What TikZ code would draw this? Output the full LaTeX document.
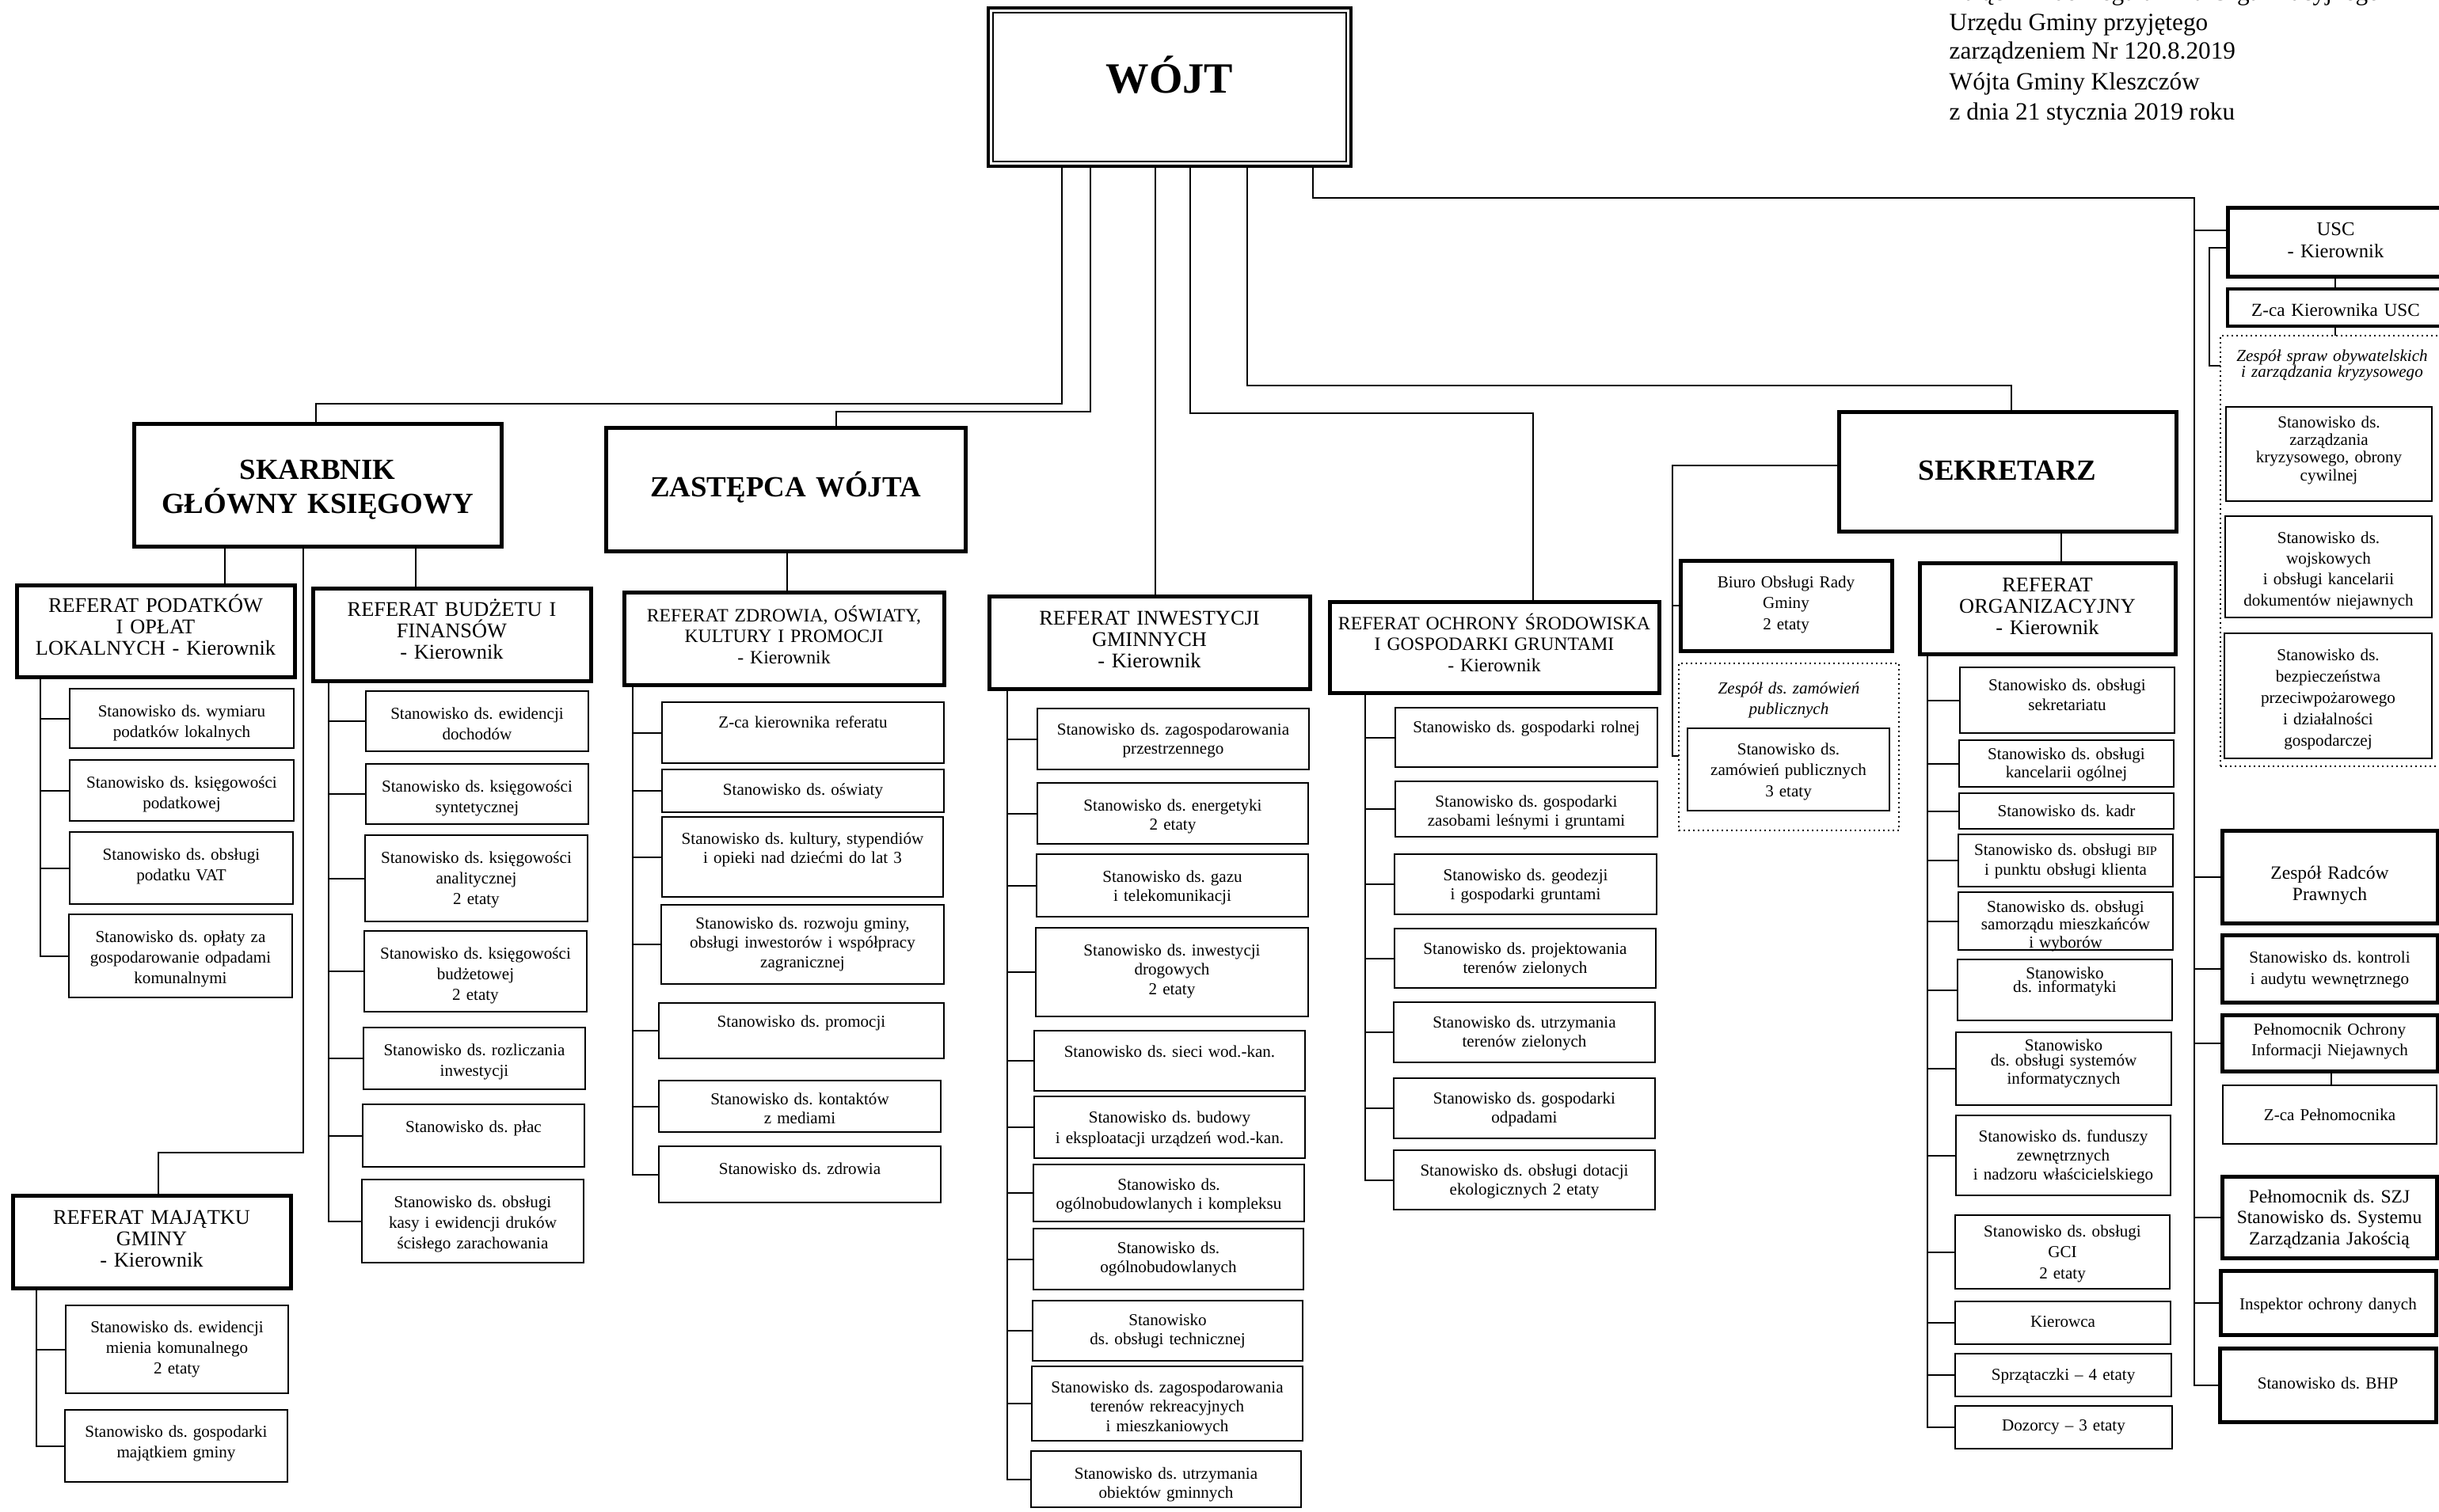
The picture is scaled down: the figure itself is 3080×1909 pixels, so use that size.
\documentclass[tikz,border=0pt]{standalone}
\usepackage{fontspec}
\setmainfont{Liberation Serif}
\frenchspacing
\newcommand\obox[9]{%
  \node[#1, anchor=north west, minimum width={(#6-#4)*0.1mm}, minimum height={(#7-#5)*0.1mm}] (#3) at (#4,#5) {};
  \node[#2, anchor=base, text width={(#6-#4+200)*0.1mm}, yshift={-(#8)*0.1mm}] (#3t) at (#3.north) {#9};
}
\tikzset{
 bthin/.style={draw, rectangle, line width=0.25mm, inner sep=0pt, outer sep=0pt},
 bthick/.style={bthin, line width=0.5mm},
 bmid/.style={bthin, line width=0.33mm},
 bdot/.style={bthin, line width=0.2mm, dash pattern=on 0.2mm off 0.4mm},
 tsub/.style={align=center, inner sep=0pt, font=\fontsize{6}{7}\selectfont},
 tsubl/.style={tsub, font=\fontsize{6}{7.5}\selectfont},
 thead/.style={align=center, inner sep=0pt, font=\fontsize{7.5}{7.7}\selectfont},
 theads/.style={thead, font=\fontsize{6.75}{7.6}\selectfont},
 tbig/.style={align=center, inner sep=0pt, font=\bfseries\fontsize{10.5}{12.3}\selectfont},
 hdr/.style={inner sep=0pt, font=\fontsize{8.9}{10}\selectfont},
 conn/.style={line width=0.2mm},
}
\begin{document}
\begin{tikzpicture}[x=0.1mm, y=-0.1mm]
\fill[white] (0,0) rectangle (3080,1909);
\useasboundingbox (0,0) rectangle (3080,1909);

% header text
\node[hdr, anchor=base west] (h1) at (2461,1) {Załącznik do Regulaminu Organizacyjnego};
\node[hdr, anchor=base west] (h2) at (2461,38) {Urzędu Gminy przyjętego};
\node[hdr, anchor=base west] (h3) at (2461,75) {zarządzeniem Nr 120.8.2019};
\node[hdr, anchor=base west] (h4) at (2461,113) {Wójta Gminy Kleszczów};
\node[hdr, anchor=base west] (h5) at (2461,151) {z dnia 21 stycznia 2019 roku};

% WOJT
\obox{bthin, line width=0.35mm}{tbig, font=\bfseries\fontsize{15.5}{18}\selectfont}{wojt}{1248}{10}{1706}{210}{107}{WÓJT}
\draw[line width=0.2mm] ([xshift=0.6mm,yshift=-0.6mm]wojt.north west) rectangle ([xshift=-0.6mm,yshift=0.6mm]wojt.south east);

% SKARBNIK column
\obox{bthick}{tbig}{sk}{169}{535}{633}{690}{70}{SKARBNIK\\GŁÓWNY KSIĘGOWY}
\obox{bthick}{thead}{pod}{21}{739}{372}{855}{34}{REFERAT PODATKÓW\\I OPŁAT\\LOKALNYCH - Kierownik}
\obox{bthin}{tsubl}{pod1}{88}{870}{371}{945}{35}{Stanowisko ds. wymiaru\\podatków lokalnych}
\obox{bthin}{tsubl}{pod2}{88}{960}{371}{1037}{35}{Stanowisko ds. księgowości\\podatkowej}
\obox{bthin}{tsubl}{pod3}{88}{1051}{370}{1142}{35}{Stanowisko ds. obsługi\\podatku VAT}
\obox{bthin}{tsubl}{pod4}{87}{1155}{369}{1260}{35}{Stanowisko ds. opłaty za\\gospodarowanie odpadami\\komunalnymi}

\obox{bthick}{thead}{bud}{395}{743}{746}{860}{35}{REFERAT BUDŻETU I\\FINANSÓW\\- Kierownik}
\obox{bthin}{tsubl}{bud1}{462}{873}{743}{949}{35}{Stanowisko ds. ewidencji\\dochodów}
\obox{bthin}{tsubl}{bud2}{462}{965}{743}{1041}{35}{Stanowisko ds. księgowości\\syntetycznej}
\obox{bthin}{tsubl}{bud3}{461}{1055}{742}{1164}{35}{Stanowisko ds. księgowości\\analitycznej\\2 etaty}
\obox{bthin}{tsubl}{bud4}{460}{1176}{741}{1278}{35}{Stanowisko ds. księgowości\\budżetowej\\2 etaty}
\obox{bthin}{tsubl}{bud5}{459}{1298}{739}{1376}{35}{Stanowisko ds. rozliczania\\inwestycji}
\obox{bthin}{tsubl}{bud6}{458}{1395}{738}{1474}{35}{Stanowisko ds. płac}
\obox{bthin}{tsubl}{bud7}{457}{1490}{737}{1595}{35}{Stanowisko ds. obsługi\\kasy i ewidencji druków\\ścisłego zarachowania}

\obox{bthick}{thead}{maj}{16}{1510}{367}{1627}{36}{REFERAT MAJĄTKU\\GMINY\\- Kierownik}
\obox{bthin}{tsubl}{maj1}{83}{1649}{364}{1760}{34}{Stanowisko ds. ewidencji\\mienia komunalnego\\2 etaty}
\obox{bthin}{tsubl}{maj2}{82}{1781}{363}{1872}{34}{Stanowisko ds. gospodarki\\majątkiem gminy}

% ZASTEPCA column
\obox{bthick}{tbig}{zas}{765}{540}{1219}{696}{87}{ZASTĘPCA WÓJTA}
\obox{bthick}{theads}{zdr}{788}{748}{1192}{865}{37}{REFERAT ZDROWIA, OŚWIATY,\\KULTURY I PROMOCJI\\- Kierownik}
\obox{bthin}{tsub}{zdr1}{836}{887}{1192}{964}{32}{Z-ca kierownika referatu}
\obox{bthin}{tsub}{zdr2}{836}{972}{1192}{1026}{32}{Stanowisko ds. oświaty}
\obox{bthin}{tsub}{zdr3}{836}{1032}{1191}{1133}{34}{Stanowisko ds. kultury, stypendiów\\i opieki nad dziećmi do lat 3}
\obox{bthin}{tsub}{zdr4}{835}{1143}{1192}{1243}{30}{Stanowisko ds. rozwoju gminy,\\obsługi inwestorów i współpracy\\zagranicznej}
\obox{bthin}{tsub}{zdr5}{832}{1267}{1192}{1337}{30}{Stanowisko ds. promocji}
\obox{bthin}{tsub}{zdr6}{832}{1365}{1188}{1430}{30}{Stanowisko ds. kontaktów\\z mediami}
\obox{bthin}{tsub}{zdr7}{832}{1448}{1188}{1519}{35}{Stanowisko ds. zdrowia}

% INWESTYCJI column
\obox{bthick}{thead}{inw}{1249}{753}{1654}{870}{36}{REFERAT INWESTYCJI\\GMINNYCH\\- Kierownik}
\obox{bthin}{tsub}{inw1}{1310}{895}{1653}{972}{33}{Stanowisko ds. zagospodarowania\\przestrzennego}
\obox{bthin}{tsub}{inw2}{1310}{989}{1652}{1066}{35}{Stanowisko ds. energetyki\\2 etaty}
\obox{bthin}{tsub}{inw3}{1309}{1079}{1652}{1158}{35}{Stanowisko ds. gazu\\i telekomunikacji}
\obox{bthin}{tsub}{inw4}{1308}{1172}{1652}{1284}{35}{Stanowisko ds. inwestycji\\drogowych\\2 etaty}
\obox{bthin}{tsub}{inw5}{1306}{1302}{1648}{1378}{33}{Stanowisko ds. sieci wod.-kan.}
\obox{bthin}{tsub, font=\fontsize{6}{7.4}\selectfont}{inw6}{1306}{1385}{1648}{1463}{33}{Stanowisko ds. budowy\\i eksploatacji urządzeń wod.-kan.}
\obox{bthin}{tsub}{inw7}{1305}{1471}{1647}{1543}{32}{Stanowisko ds.\\ogólnobudowlanych i kompleksu}
\obox{bthin}{tsub}{inw8}{1305}{1552}{1646}{1629}{31}{Stanowisko ds.\\ogólnobudowlanych}
\obox{bthin}{tsub}{inw9}{1304}{1643}{1645}{1719}{31}{Stanowisko\\ds. obsługi technicznej}
\obox{bthin}{tsub}{inw10}{1303}{1726}{1645}{1820}{33}{Stanowisko ds. zagospodarowania\\terenów rekreacyjnych\\i mieszkaniowych}
\obox{bthin}{tsub}{inw11}{1302}{1833}{1643}{1904}{35}{Stanowisko ds. utrzymania\\obiektów gminnych}

% OCHRONY column
\obox{bthick}{theads}{och}{1679}{760}{2095}{875}{35}{REFERAT OCHRONY ŚRODOWISKA\\I GOSPODARKI GRUNTAMI\\- Kierownik}
\obox{bthin}{tsub}{och1}{1762}{894}{2093}{969}{31}{Stanowisko ds. gospodarki rolnej}
\obox{bthin}{tsub}{och2}{1762}{987}{2093}{1057}{32}{Stanowisko ds. gospodarki\\zasobami leśnymi i gruntami}
\obox{bthin}{tsub}{och3}{1761}{1079}{2092}{1155}{33}{Stanowisko ds. geodezji\\i gospodarki gruntami}
\obox{bthin}{tsub}{och4}{1761}{1173}{2091}{1248}{32}{Stanowisko ds. projektowania\\terenów zielonych}
\obox{bthin}{tsub}{och5}{1760}{1266}{2090}{1342}{32}{Stanowisko ds. utrzymania\\terenów zielonych}
\obox{bthin}{tsub}{och6}{1760}{1362}{2090}{1438}{32}{Stanowisko ds. gospodarki\\odpadami}
\obox{bthin}{tsub}{och7}{1760}{1453}{2090}{1528}{32}{Stanowisko ds. obsługi dotacji\\ekologicznych 2 etaty}

% SEKRETARZ
\obox{bthick}{tbig}{sek}{2322}{520}{2748}{671}{86}{SEKRETARZ}
\obox{bthick}{tsub, font=\fontsize{6}{7.6}\selectfont}{biu}{2122}{708}{2389}{822}{34}{Biuro Obsługi Rady\\Gminy\\2 etaty}
\obox{bdot}{tsub, font=\itshape\fontsize{6}{7.4}\selectfont}{zam}{2120}{838}{2398}{1049}{38}{Zespół ds. zamówień\\publicznych}
\obox{bthin}{tsub, font=\fontsize{6}{7.6}\selectfont}{zam1}{2131}{920}{2386}{1024}{33}{Stanowisko ds.\\zamówień publicznych\\3 etaty}

\obox{bthick}{thead}{org}{2424}{711}{2747}{826}{36}{REFERAT\\ORGANIZACYJNY\\- Kierownik}
\obox{bthin}{tsub, font=\fontsize{6}{7.3}\selectfont}{org1}{2475}{843}{2746}{926}{29}{Stanowisko ds. obsługi\\sekretariatu}
\obox{bthin}{tsub, font=\fontsize{6}{6.8}\selectfont}{org2}{2474}{935}{2745}{994}{24}{Stanowisko ds. obsługi\\kancelarii ogólnej}
\obox{bthin}{tsub}{org3}{2474}{1002}{2745}{1047}{29}{Stanowisko ds. kadr}
\obox{bthin}{tsub, font=\fontsize{6}{7.2}\selectfont}{org4}{2473}{1054}{2744}{1120}{26}{Stanowisko ds. obsługi {\fontsize{4.6}{5}\selectfont BIP}\\i punktu obsługi klienta}
\obox{bthin}{tsub, font=\fontsize{6}{5.3}\selectfont}{org5}{2473}{1127}{2744}{1200}{25}{Stanowisko ds. obsługi\\samorządu mieszkańców\\i wyborów}
\obox{bthin}{tsub, font=\fontsize{6}{5.1}\selectfont}{org6}{2472}{1212}{2743}{1289}{24}{Stanowisko\\ds. informatyki}
\obox{bthin}{tsub, font=\fontsize{6}{5.5}\selectfont}{org7}{2470}{1304}{2742}{1396}{23}{Stanowisko\\ds. obsługi systemów\\informatycznych}
\obox{bthin}{tsub, font=\fontsize{6}{6.9}\selectfont}{org8}{2470}{1409}{2741}{1510}{33}{Stanowisko ds. funduszy\\zewnętrznych\\i nadzoru właścicielskiego}
\obox{bthin}{tsub, font=\fontsize{6}{7.6}\selectfont}{org9}{2469}{1535}{2740}{1628}{27}{Stanowisko ds. obsługi\\GCI\\2 etaty}
\obox{bthin}{tsub}{org10}{2469}{1644}{2741}{1698}{32}{Kierowca}
\obox{bthin}{tsub}{org11}{2469}{1710}{2742}{1764}{33}{Sprzątaczki – 4 etaty}
\obox{bthin}{tsub}{org12}{2469}{1776}{2743}{1830}{31}{Dozorcy – 3 etaty}

% USC group
\obox{bthick}{tsub, font=\fontsize{7}{8}\selectfont}{usc}{2813}{262}{3086}{349}{35}{USC\\- Kierownik}
\obox{bmid}{tsub, font=\fontsize{6.6}{7.5}\selectfont}{uscz}{2813}{365}{3086}{412}{34}{Z-ca Kierownika USC}
\obox{bdot}{tsub, font=\itshape\fontsize{6}{5.7}\selectfont}{zso}{2804}{424}{3086}{968}{32}{Zespół spraw obywatelskich\\i zarządzania kryzysowego}
\obox{bthin}{tsub, font=\fontsize{6}{6.4}\selectfont}{zso1}{2811}{514}{3071}{633}{26}{Stanowisko ds.\\zarządzania\\kryzysowego, obrony\\cywilnej}
\obox{bthin}{tsub, font=\fontsize{6}{7.5}\selectfont}{zso2}{2810}{652}{3071}{780}{34}{Stanowisko ds.\\wojskowych\\i obsługi kancelarii\\dokumentów niejawnych}
\obox{bthin}{tsub, font=\fontsize{6}{7.7}\selectfont}{zso3}{2809}{800}{3071}{958}{34}{Stanowisko ds.\\bezpieczeństwa\\przeciwpożarowego\\i działalności\\gospodarczej}

% right side
\obox{bthick}{tsub, font=\fontsize{6.7}{7.7}\selectfont}{rad}{2806}{1049}{3078}{1166}{61}{Zespół Radców\\Prawnych}
\obox{bthick}{tsub, font=\fontsize{6}{7.7}\selectfont}{kon}{2806}{1181}{3078}{1266}{35}{Stanowisko ds. kontroli\\i audytu wewnętrznego}
\obox{bthick}{tsub, font=\fontsize{6}{7.5}\selectfont}{pel}{2806}{1282}{3078}{1353}{25}{Pełnomocnik Ochrony\\Informacji Niejawnych}
\obox{bthin}{tsub}{pelz}{2807}{1371}{3077}{1445}{44}{Z-ca Pełnomocnika}
\obox{bthick}{tsub, font=\fontsize{6.7}{7.6}\selectfont}{szj}{2806}{1486}{3077}{1589}{33}{Pełnomocnik ds. SZJ\\Stanowisko ds. Systemu\\Zarządzania Jakością}
\obox{bthick}{tsub}{ins}{2804}{1605}{3076}{1686}{49}{Inspektor ochrony danych}
\obox{bthick}{tsub}{bhp}{2803}{1703}{3076}{1796}{51}{Stanowisko ds. BHP}

% coordinates
\coordinate (x1341) at (1341,0);
\coordinate (x1377) at (1377,0);
\coordinate (x1459) at (1459,0);
\coordinate (x1503) at (1503,0);
\coordinate (x1575) at (1575,0);
\coordinate (x1658) at (1658,0);
\coordinate (j1) at (399,510);
\coordinate (j2) at (1056,520);
\coordinate (j3) at (1936,522);
\coordinate (j4) at (2540,487);
\coordinate (j5) at (2771,250);
\coordinate (j6) at (2771,291);
\coordinate (j7) at (200,1456);
\coordinate (j8) at (2112,955);
\coordinate (j9) at (2790,313);
\coordinate (j10) at (2790,462);
\coordinate (x284) at (284,0);
\coordinate (x525) at (525,0);
\coordinate (x383) at (383,0);
\coordinate (x994) at (994,0);
\coordinate (x2603) at (2603,0);
\coordinate (x2949) at (2949,0);
\coordinate (x2944) at (2944,0);
\coordinate (sP) at (51,0);
\coordinate (sB) at (415,0);
\coordinate (sM) at (46,0);
\coordinate (sZ) at (799,0);
\coordinate (sI) at (1272,0);
\coordinate (sO) at (1724,0);
\coordinate (sR) at (2434,0);

% connectors from WOJT
\draw[conn] (wojt.south -| x1341) |- (j1) -- (sk.north -| j1);
\draw[conn] (wojt.south -| x1377) |- (j2) -- (zas.north -| j2);
\draw[conn] (wojt.south -| x1459) -- (inw.north -| x1459);
\draw[conn] (wojt.south -| x1503) |- (j3) -- (och.north -| j3);
\draw[conn] (wojt.south -| x1575) |- (j4) -- (sek.north -| j4);
\draw[conn] (wojt.south -| x1658) |- (j5) -- (bhp.west -| j5) -- (bhp.west);
\draw[conn] (j6) -- (usc.west |- j6);
\foreach \n in {rad,kon,pel,szj,ins} \draw[conn] (\n.west -| j5) -- (\n.west);

% SKARBNIK
\draw[conn] (sk.south -| x284) -- (pod.north -| x284);
\draw[conn] (sk.south -| x525) -- (bud.north -| x525);
\draw[conn] (sk.south -| x383) |- (j7) -- (maj.north -| j7);
\foreach \n in {pod1,pod2,pod3,pod4} \draw[conn] (pod.south -| sP) |- (\n.west);
\foreach \n in {bud1,bud2,bud3,bud4,bud5,bud6,bud7} \draw[conn] (bud.south -| sB) |- (\n.west);
\foreach \n in {maj1,maj2} \draw[conn] (maj.south -| sM) |- (\n.west);

% ZASTEPCA
\draw[conn] (zas.south -| x994) -- (zdr.north -| x994);
\foreach \n in {zdr1,zdr2,zdr3,zdr4,zdr5,zdr6,zdr7} \draw[conn] (zdr.south -| sZ) |- (\n.west);
\foreach \n in {inw1,inw2,inw3,inw4,inw5,inw6,inw7,inw8,inw9,inw10,inw11} \draw[conn] (inw.south -| sI) |- (\n.west);
\foreach \n in {och1,och2,och3,och4,och5,och6,och7} \draw[conn] (och.south -| sO) |- (\n.west);

% SEKRETARZ
\draw[conn] ([yshift=0.8mm]sek.west) -| (j8) -- (zam.west |- j8);
\draw[conn] (biu.west -| j8) -- (biu.west);
\draw[conn] (sek.south -| x2603) -- (org.north -| x2603);
\foreach \n in {org1,org2,org3,org4,org5,org6,org7,org8,org9,org10,org11,org12} \draw[conn] (org.south -| sR) |- (\n.west);

% USC
\draw[conn] (usc.south -| x2949) -- (uscz.north -| x2949);
\draw[conn] (uscz.south -| x2949) -- (zso.north -| x2949);
\draw[conn] (usc.west |- j9) -| (j10) -- (zso.west |- j10);
\draw[conn] (pel.south -| x2944) -- (pelz.north -| x2944);
\end{tikzpicture}
\end{document}
